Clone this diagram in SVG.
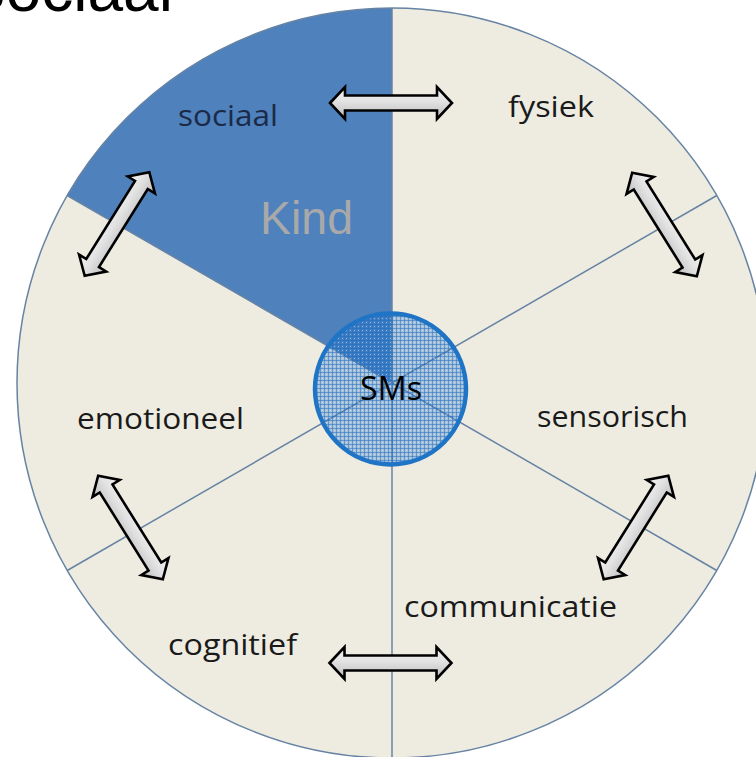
<svg xmlns="http://www.w3.org/2000/svg" width="756" height="757" viewBox="0 0 756 757">
  <defs>
    <style>
      .lbl { font-family: "Open Sans", "Noto Sans", "Liberation Sans", sans-serif; font-size: 30px; fill: #1a1a1a; }
      .spoke { stroke: #6783A3; stroke-width: 1.5; fill: none; }
      .arrow { fill: url(#arrowFill); stroke: #000; stroke-width: 2.6; stroke-linejoin: miter; }
    </style>
    <linearGradient id="arrowFill" x1="0" y1="0" x2="0" y2="1">
      <stop offset="0" stop-color="#F4F4F4"/>
      <stop offset="0.45" stop-color="#E2E2E2"/>
      <stop offset="1" stop-color="#BDBDBD"/>
    </linearGradient>
    <pattern id="grid" width="4" height="4" patternUnits="userSpaceOnUse">
      <rect width="4" height="4" fill="#2B78CC" fill-opacity="0.36"/>
      <path d="M0,0.5H4M0.5,0V4" stroke="#1F6EC4" stroke-opacity="0.5" stroke-width="1"/>
      <rect x="2" y="2" width="1" height="1" fill="#FFFFFF" fill-opacity="0.4"/>
    </pattern>
    <!-- double-headed block arrow, 122 long, centred on the origin -->
    <path id="dblArrow" d="M-61,0 L-46,-16 L-46,-7.5 L46,-7.5 L46,-16 L61,0 L46,16 L46,7.5 L-46,7.5 L-46,16 Z"/>
  </defs>

  <rect width="756" height="757" fill="#FFFFFF"/>

  <!-- heading, running off the top edge -->
  <text x="-37" y="11" font-family="Liberation Sans, Arial, sans-serif" font-size="64" fill="#000">Sociaal</text>

  <!-- wheel -->
  <g id="wheel">
    <circle cx="392" cy="383" r="375" fill="#EEECE1"/>
    <path d="M392,383 L392,8 A375,375 0 0 0 67.2,195.5 Z" fill="#4F81BD"/>
    <circle cx="392" cy="383" r="375" fill="none" stroke="#6783A3" stroke-width="1.5"/>
  </g>

  <g id="spokes">
    <line class="spoke" x1="392" y1="8" x2="392" y2="758"/>
    <line class="spoke" x1="67.2" y1="195.5" x2="716.8" y2="570.5"/>
    <line class="spoke" x1="716.8" y1="195.5" x2="67.2" y2="570.5"/>
  </g>

  <!-- sector labels -->
  <g id="sociaal"><text class="lbl" x="178" y="126" textLength="100" lengthAdjust="spacingAndGlyphs" style="fill:#1B2A47">sociaal</text></g>
  <g id="kind"><text x="260" y="234" font-family="Liberation Sans, Arial, sans-serif" font-size="46" fill="#A9A9A9" textLength="93" lengthAdjust="spacingAndGlyphs">Kind</text></g>
  <g id="fysiek"><text class="lbl" x="508" y="117" textLength="86" lengthAdjust="spacingAndGlyphs">fysiek</text></g>
  <g id="emotioneel"><text class="lbl" x="77" y="429" textLength="167" lengthAdjust="spacingAndGlyphs">emotioneel</text></g>
  <g id="sensorisch"><text class="lbl" x="537" y="427" textLength="151" lengthAdjust="spacingAndGlyphs">sensorisch</text></g>
  <g id="communicatie"><text class="lbl" x="404" y="617" textLength="213" lengthAdjust="spacingAndGlyphs">communicatie</text></g>
  <g id="cognitief"><text class="lbl" x="168" y="655" textLength="129" lengthAdjust="spacingAndGlyphs">cognitief</text></g>

  <!-- centre disc -->
  <g id="sms">
    <circle cx="390.5" cy="389" r="75.5" fill="url(#grid)" stroke="#1F74C6" stroke-width="4.5"/>
    <text x="360" y="400" font-family="Open Sans, Noto Sans, sans-serif" font-size="32" fill="#000" textLength="62" lengthAdjust="spacingAndGlyphs">SMs</text>
  </g>

  <!-- connectors between neighbouring sectors -->
  <g id="connectors">
    <use href="#dblArrow" class="arrow" transform="translate(391,103)"/>
    <use href="#dblArrow" class="arrow" transform="translate(390.5,663)"/>
    <use href="#dblArrow" class="arrow" transform="translate(117,224) rotate(-58)"/>
    <use href="#dblArrow" class="arrow" transform="translate(130.5,527.5) rotate(58)"/>
    <use href="#dblArrow" class="arrow" transform="translate(664.5,224.5) rotate(58)"/>
    <use href="#dblArrow" class="arrow" transform="translate(636,527.5) rotate(-58)"/>
  </g>
</svg>
